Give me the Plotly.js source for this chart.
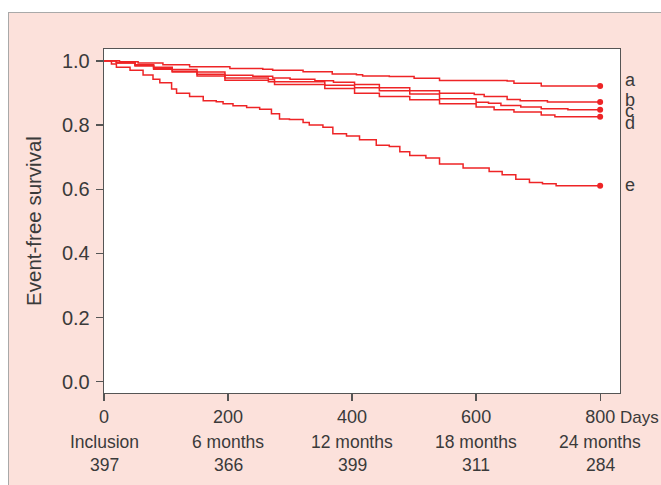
<!DOCTYPE html>
<html>
<head>
<meta charset="utf-8">
<script src="https://cdn.plot.ly/plotly-3.0.1.min.js"></script>
<style>
  html, body { margin:0; padding:0; background:#ffffff; }
  #panel { position:absolute; left:8px; top:12px; width:660px; height:480px;
           background:#fce1db; border-left:1px solid #a9a9a9; border-top:1px solid #a9a9a9; }
  #chart { position:absolute; left:0; top:0; width:661px; height:485px; }
</style>
</head>
<body>
<div id="panel"></div>
<div id="chart"></div>
<script>
// ---- data ----
const curveNames = ['a', 'b', 'c', 'd', 'e'];

const daysA = [0, 25, 55, 95, 138, 203, 256, 272, 321, 368, 407, 417, 460, 500, 541, 650, 661, 705, 800];
const survA = [1.0, 0.997, 0.993, 0.988, 0.982, 0.976, 0.974, 0.971, 0.966, 0.959, 0.957, 0.953, 0.951, 0.946, 0.939, 0.937, 0.930, 0.922, 0.922];

const daysB = [0, 20, 50, 80, 110, 150, 195, 240, 272, 300, 340, 370, 404, 444, 493, 541, 597, 613, 650, 671, 715, 800];
const survB = [1.0, 0.995, 0.988, 0.980, 0.973, 0.965, 0.955, 0.952, 0.947, 0.943, 0.938, 0.933, 0.926, 0.916, 0.907, 0.899, 0.895, 0.889, 0.880, 0.876, 0.872, 0.872];

const daysC = [0, 20, 50, 80, 110, 150, 195, 265, 275, 356, 404, 444, 493, 541, 600, 620, 640, 672, 705, 748, 800];
const survC = [1.0, 0.994, 0.986, 0.977, 0.968, 0.958, 0.947, 0.942, 0.935, 0.924, 0.916, 0.907, 0.897, 0.882, 0.871, 0.868, 0.861, 0.856, 0.851, 0.848, 0.848];

const daysD = [0, 20, 50, 80, 110, 150, 195, 265, 275, 356, 404, 444, 493, 541, 600, 629, 661, 705, 727, 800];
const survD = [1.0, 0.993, 0.984, 0.974, 0.965, 0.953, 0.940, 0.935, 0.926, 0.914, 0.899, 0.889, 0.879, 0.866, 0.856, 0.848, 0.841, 0.831, 0.826, 0.826];

const daysE = [0, 12, 20, 42, 63, 79, 90, 109, 117, 138, 160, 181, 192, 208, 230, 251, 270, 283, 299, 321, 331, 353, 369, 391, 412, 439, 460, 477, 493, 519, 541, 579, 621, 642, 664, 686, 707, 729, 800];
const survE = [1.0, 0.99, 0.980, 0.971, 0.956, 0.943, 0.932, 0.912, 0.899, 0.889, 0.876, 0.873, 0.866, 0.860, 0.855, 0.849, 0.835, 0.819, 0.817, 0.808, 0.800, 0.793, 0.773, 0.766, 0.754, 0.737, 0.733, 0.717, 0.705, 0.697, 0.679, 0.666, 0.655, 0.645, 0.631, 0.621, 0.617, 0.611, 0.611];

const xTickVals = [0, 200, 400, 600, 800];
const xTickText = ['0', '200', '400', '600', '800'];
const timeLabels = ['Inclusion', '6 months', '12 months', '18 months', '24 months'];
const atRisk = ['397', '366', '399', '311', '284'];
const yTickVals = [0, 0.2, 0.4, 0.6, 0.8, 1.0];
const yTickText = ['0.0', '0.2', '0.4', '0.6', '0.8', '1.0'];

// ---- styles ----
const RED = 'rgb(238,36,38)';
const TXT = '#3a3a3a';
const FONT = 'Liberation Sans, Arial, sans-serif';
const labelShift = [6, 2, -1, -6, 1];

const curves = [[daysA, survA], [daysB, survB], [daysC, survC], [daysD, survD], [daysE, survE]];

const traces = [];
curves.forEach(([d, s], i) => {
  traces.push({ x: d, y: s, type: 'scatter', mode: 'lines', name: curveNames[i],
    line: { color: RED, width: 1.5, shape: 'hv' }, hoverinfo: 'skip' });
  traces.push({ x: [d[d.length - 1]], y: [s[s.length - 1]], type: 'scatter', mode: 'markers',
    marker: { color: RED, size: 6 }, hoverinfo: 'skip' });
});

const annotations = [];
curves.forEach(([d, s], i) => {
  annotations.push({ x: d[d.length - 1], y: s[s.length - 1], xref: 'x', yref: 'y',
    text: curveNames[i], showarrow: false, xanchor: 'left', yanchor: 'middle',
    xshift: 23, yshift: labelShift[i], font: { family: FONT, size: 18, color: TXT } });
});
xTickVals.forEach((v, i) => {
  annotations.push({ x: v, y: 0, xref: 'x', yref: 'paper', text: timeLabels[i], showarrow: false,
    xanchor: 'center', yanchor: 'middle', yshift: -49, font: { family: FONT, size: 17.5, color: TXT } });
  annotations.push({ x: v, y: 0, xref: 'x', yref: 'paper', text: atRisk[i], showarrow: false,
    xanchor: 'center', yanchor: 'middle', yshift: -72, font: { family: FONT, size: 17.5, color: TXT } });
});
annotations.push({ x: 800, y: 0, xref: 'x', yref: 'paper', text: 'Days', showarrow: false,
  xanchor: 'left', yanchor: 'middle', xshift: 18, yshift: -24, font: { family: FONT, size: 17, color: TXT } });

const axisLine = '#555555';
const layout = {
  width: 661, height: 485,
  margin: { l: 104, r: 41, t: 49, b: 92 },
  paper_bgcolor: 'rgba(0,0,0,0)',
  plot_bgcolor: '#ffffff',
  showlegend: false,
  font: { family: FONT, color: TXT },
  xaxis: {
    range: [0, 832], tickmode: 'array', tickvals: xTickVals, ticktext: xTickText,
    showgrid: false, zeroline: false, showline: true, mirror: true, linecolor: axisLine, linewidth: 1.3,
    ticks: 'outside', ticklen: 7, tickcolor: axisLine, tickwidth: 1.3,
    tickfont: { family: FONT, size: 18, color: TXT }
  },
  yaxis: {
    range: [-0.035, 1.037], tickmode: 'array', tickvals: yTickVals, ticktext: yTickText,
    showgrid: false, zeroline: false, showline: true, mirror: true, linecolor: axisLine, linewidth: 1.3,
    ticks: 'outside', ticklen: 7, tickcolor: axisLine, tickwidth: 1.3, ticklabelstandoff: 2,
    tickfont: { family: FONT, size: 20, color: TXT },
    title: { text: 'Event-free survival', font: { family: FONT, size: 20.5, color: TXT }, standoff: 14 }
  },
  annotations: annotations
};

Plotly.newPlot('chart', traces, layout, { displayModeBar: false, staticPlot: true });
</script>
</body>
</html>
